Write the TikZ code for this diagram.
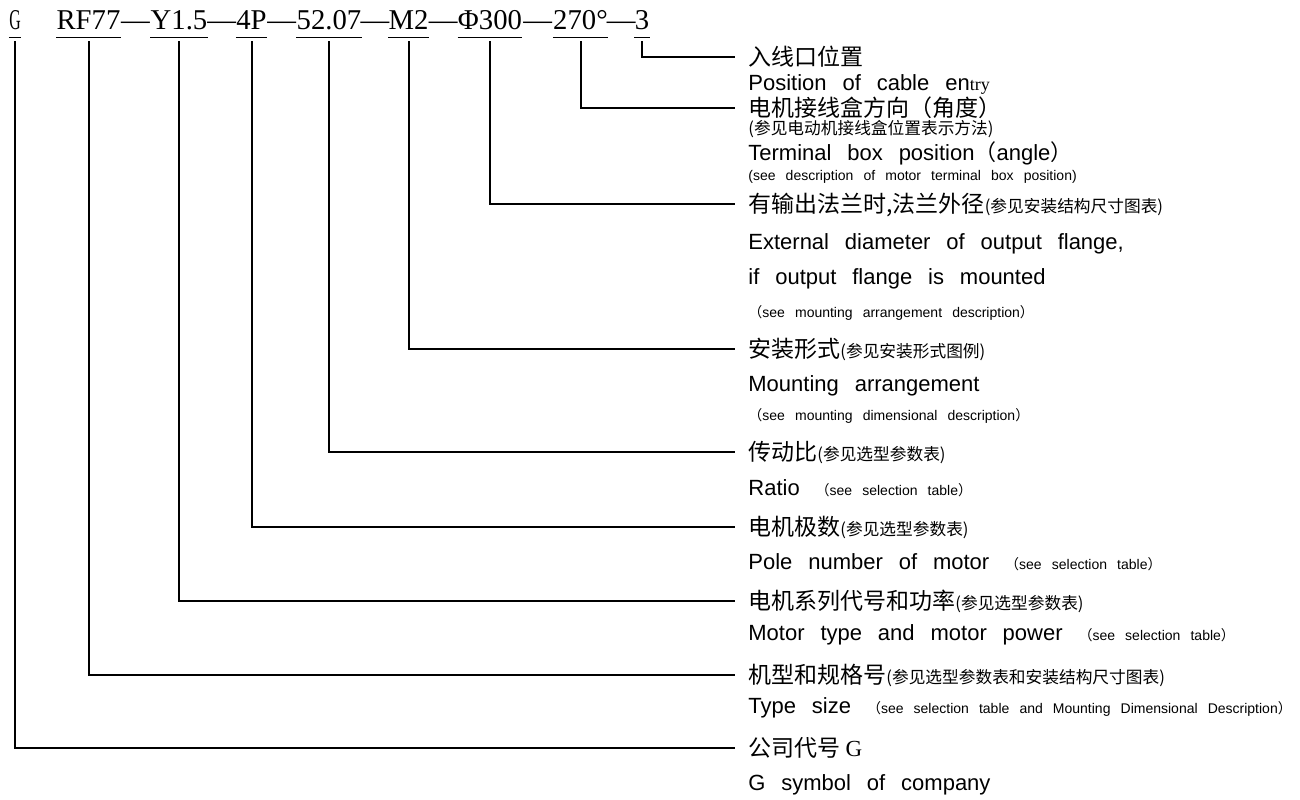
\documentclass[tikz,border=0pt]{standalone}
\usepackage{fontspec}
\setmainfont{Liberation Serif}
\setsansfont{Liberation Sans}[WordSpace=2.6]
\newfontfamily\cjk{Noto Sans CJK SC}
\usetikzlibrary{calc}

%% small inline parts and full-width brackets
\newcommand{\zhs}[1]{{\fontsize{8.35}{10}\selectfont #1}}
\newcommand{\ens}[1]{{\fontsize{7}{8}\selectfont #1}}
\newcommand{\zlp}{{\cjk （}}
\newcommand{\zrp}{{\cjk ）}}

\begin{document}
\begin{tikzpicture}[x=0.5pt,y=-0.5pt,
  code/.style={font=\fontsize{14.35}{16}\selectfont,inner xsep=0pt,
               inner ysep=3.75pt,text depth=0pt,anchor=base},
  uline/.style={line width=0.75pt},
  lead/.style={line width=1pt},
  lblzh/.style={anchor=west,inner sep=0pt,font=\cjk\fontsize{11.5}{14}\selectfont,
                text height=10.1pt,text depth=1.4pt},
  lblzhs/.style={anchor=west,inner sep=0pt,font=\cjk\fontsize{8.35}{10}\selectfont,
                 text height=7.35pt,text depth=1pt},
  lblen/.style={anchor=west,inner sep=0pt,font=\sffamily\fontsize{11}{13}\selectfont,
                text height=7.9pt,text depth=0pt},
  lblens/.style={anchor=west,inner sep=0pt,font=\sffamily\fontsize{7}{8}\selectfont,
                 text height=5pt,text depth=0pt}
]
\useasboundingbox (0,0) rectangle (1300,799);

%% Type code line
\node[code] (g)  at (15,29.5)    {\scalebox{0.55}[1]{G}};
\node[code] (rf) at (88.5,29.5)  {RF77};
\node[code] (y)  at (179,29.5)   {Y1.5};
\node[code] (p)  at (251.5,29.5) {4P};
\node[code] (r)  at (329,29.5)   {52.07};
\node[code] (m)  at (408.5,29.5) {M2};
\node[code] (d)  at (490,29.5)   {Φ300};
\node[code] (a)  at (580.5,29.5) {270°};
\node[code] (e)  at (642,29.5)   {3};

\foreach \s/\t in {rf/y,y/p,p/r,r/m,m/d,d/a,a/e}
  \node[code] (dash\s) at ($(\s.base east)!0.5!(\t.base west)$) {—};

\foreach \n in {g,rf,y,p,r,m,d,a,e}
  \draw[uline] (\n.south west) -- (\n.south east);

%% Explanations
\node[lblzh]  (cable)    at (748,57)  {入线口位置};
\node[lblen]  (cableen)  at (748,83)  {Position of cable en{\rmfamily\fontsize{9}{10}\selectfont try}};
\node[lblzh]  (term)     at (748,108) {电机接线盒方向（角度）};
\node[lblzhs] (termzh)   at (748,128) {(参见电动机接线盒位置表示方法)};
\node[lblen]  (termen)   at (748,153) {Terminal box position\zlp angle\zrp};
\node[lblens] (termref)  at (748,175) {(see description of motor terminal box position)};
\node[lblzh]  (flange)   at (748,204) {有输出法兰时,法兰外径\zhs{(参见安装结构尺寸图表)}};
\node[lblen]  (flangea)  at (748,242) {External diameter of output flange,};
\node[lblen]  (flangeb)  at (748,277) {if output flange is mounted};
\node[lblens] (flangec)  at (748,312) {\zlp see mounting arrangement description\zrp};
\node[lblzh]  (mount)    at (748,349) {安装形式\zhs{(参见安装形式图例)}};
\node[lblen]  (mounten)  at (748,384) {Mounting arrangement};
\node[lblens] (mountref) at (748,415) {\zlp see mounting dimensional description\zrp};
\node[lblzh]  (ratio)    at (748,452) {传动比\zhs{(参见选型参数表)}};
\node[lblen]  (ratioen)  at (748,488) {Ratio \ens{\zlp see selection table\zrp}};
\node[lblzh]  (pole)     at (748,527) {电机极数\zhs{(参见选型参数表)}};
\node[lblen]  (poleen)   at (748,562) {Pole number of motor \ens{\zlp see selection table\zrp}};
\node[lblzh]  (motor)    at (748,601) {电机系列代号和功率\zhs{(参见选型参数表)}};
\node[lblen]  (motoren)  at (748,633) {Motor type and motor power \ens{\zlp see selection table\zrp}};
\node[lblzh]  (size)     at (748,675) {机型和规格号\zhs{(参见选型参数表和安装结构尺寸图表)}};
\node[lblen]  (sizeen)   at (748,706) {Type size \ens{\zlp see selection table and Mounting Dimensional Description\zrp}};
\node[lblzh]  (comp)     at (748,748) {公司代号 {\rmfamily G}};
\node[lblen]  (compen)   at (748,783) {G symbol of company};

%% Leaders from code to explanation
\draw[lead] ([yshift=-2pt]e.south)  |- ([xshift=-6.5pt]cable.west);
\draw[lead] ([yshift=-2pt]a.south)  |- ([xshift=-6.5pt]term.west);
\draw[lead] ([yshift=-2pt]d.south)  |- ([xshift=-6.5pt]flange.west);
\draw[lead] ([yshift=-2pt]m.south)  |- ([xshift=-6.5pt]mount.west);
\draw[lead] ([yshift=-2pt]r.south)  |- ([xshift=-6.5pt]ratio.west);
\draw[lead] ([yshift=-2pt]p.south)  |- ([xshift=-6.5pt]pole.west);
\draw[lead] ([yshift=-2pt]y.south)  |- ([xshift=-6.5pt]motor.west);
\draw[lead] ([yshift=-2pt]rf.south) |- ([xshift=-6.5pt]size.west);
\draw[lead] ([yshift=-2pt]g.south)  |- ([xshift=-6.5pt]comp.west);
\end{tikzpicture}
\end{document}
